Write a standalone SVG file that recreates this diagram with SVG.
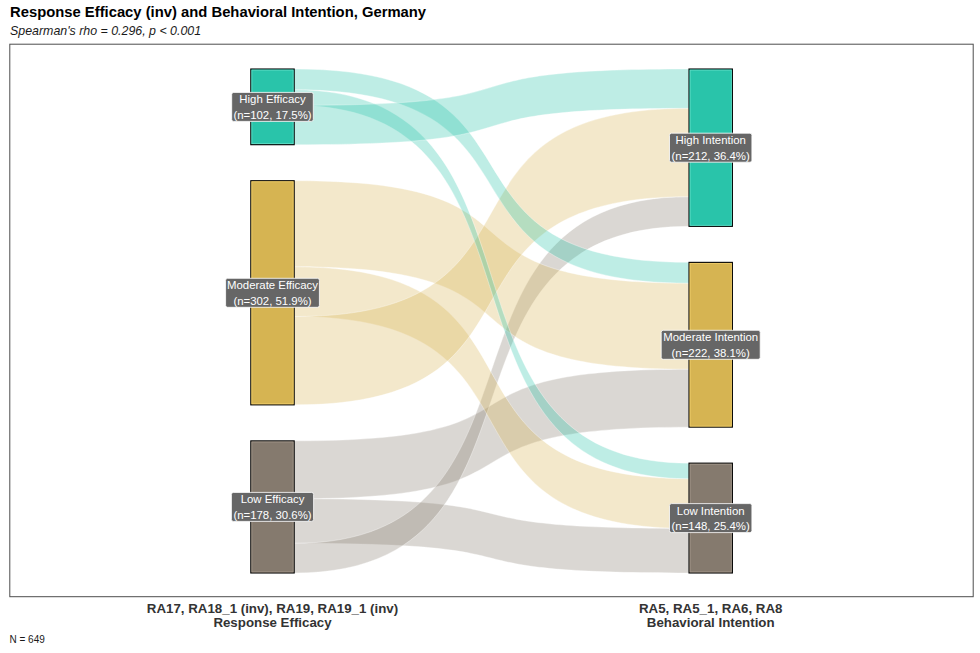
<svg xmlns="http://www.w3.org/2000/svg" width="980" height="653" viewBox="0 0 980 653">
<style>
text{font-family:"Liberation Sans",Arial,Helvetica,sans-serif}
.title{font-size:14.8px;font-weight:bold;fill:#000}
.sub{font-size:12.4px;font-style:italic;fill:#1a1a1a}
.ax{font-size:13.3px;font-weight:bold;fill:#333;text-anchor:middle}
.cap{font-size:10px;fill:#1a1a1a}
.flow{stroke:#fff;stroke-width:0.5;stroke-opacity:0.7}
.fh{fill:#29C4AA;fill-opacity:0.3}
.fm{fill:#D6B452;fill-opacity:0.3}
.fl{fill:#857A6E;fill-opacity:0.3}
.node{stroke:#000;stroke-width:1.1}
.inner{fill:none;stroke-width:0.8}
.lbox{fill:#666;stroke:#fff;stroke-width:0.8}
.ltxt{font-size:11.4px;fill:#fff;text-anchor:middle}
</style>
<rect x="0" y="0" width="980" height="653" fill="#fff"/>
<text class="title" x="10" y="17.4">Response Efficacy (inv) and Behavioral Intention, Germany</text>
<text class="sub" x="10" y="35">Spearman's rho = 0.296, p &lt; 0.001</text>
<rect x="9.8" y="44.2" width="963.4" height="552.5" fill="#fff" stroke="#4d4d4d" stroke-width="1"/>
<g id="connectors">
<path class="flow fl" d="M294.2,440.87 C570,440.87 413,369.24 689,369.24 L689,427.14 C413,427.14 570,498.77 294.2,498.77 Z"/>
<path class="flow fl" d="M294.2,498.77 C570,498.77 413,528.46 689,528.46 L689,573 C413,573 570,543.31 294.2,543.31 Z"/>
<path class="flow fl" d="M294.2,543.31 C570,543.31 413,196.67 689,196.67 L689,226.36 C413,226.36 570,573 294.2,573 Z"/>
<path class="flow fm" d="M294.2,180.71 C570,180.71 413,283.14 689,283.14 L689,369.24 C413,369.24 570,266.81 294.2,266.81 Z"/>
<path class="flow fm" d="M294.2,266.81 C570,266.81 413,478.73 689,478.73 L689,528.46 C413,528.46 570,316.54 294.2,316.54 Z"/>
<path class="flow fm" d="M294.2,316.54 C570,316.54 413,108.34 689,108.34 L689,196.67 C413,196.67 570,404.87 294.2,404.87 Z"/>
<path class="flow fh" d="M294.2,69 C570,69 413,262.36 689,262.36 L689,283.14 C413,283.14 570,89.78 294.2,89.78 Z"/>
<path class="flow fh" d="M294.2,89.78 C570,89.78 413,463.14 689,463.14 L689,478.73 C413,478.73 570,105.37 294.2,105.37 Z"/>
<path class="flow fh" d="M294.2,105.37 C570,105.37 413,69 689,69 L689,108.34 C413,108.34 570,144.71 294.2,144.71 Z"/>
</g>
<g id="high-efficacy">
<rect class="node" x="250.8" y="69" width="43.4" height="75.71" fill="#29C4AA"/>
<rect class="inner" x="251.9" y="70.1" width="41.2" height="73.5" stroke="#63DEC6"/>
<rect class="lbox" x="231.7" y="92.4" width="81.6" height="29" rx="2"/>
<text class="ltxt" x="272.5" y="103.3">High Efficacy</text>
<text class="ltxt" x="272.5" y="118.9">(n=102, 17.5%)</text>
</g>
<g id="moderate-efficacy">
<rect class="node" x="250.8" y="180.71" width="43.4" height="224.16" fill="#D6B452"/>
<rect class="inner" x="251.9" y="181.8" width="41.2" height="222" stroke="#F0CE6A"/>
<rect class="lbox" x="225.6" y="278.3" width="93.8" height="29" rx="2"/>
<text class="ltxt" x="272.5" y="289.2">Moderate Efficacy</text>
<text class="ltxt" x="272.5" y="304.8">(n=302, 51.9%)</text>
</g>
<g id="low-efficacy">
<rect class="node" x="250.8" y="440.87" width="43.4" height="132.13" fill="#857A6E"/>
<rect class="inner" x="251.9" y="442" width="41.2" height="129.9" stroke="#A2978A"/>
<rect class="lbox" x="231.4" y="492.4" width="82.2" height="29" rx="2"/>
<text class="ltxt" x="272.5" y="503.3">Low Efficacy</text>
<text class="ltxt" x="272.5" y="518.9">(n=178, 30.6%)</text>
</g>
<g id="high-intention">
<rect class="node" x="689" y="69" width="43.4" height="157.36" fill="#29C4AA"/>
<rect class="inner" x="690.1" y="70.1" width="41.2" height="155.2" stroke="#63DEC6"/>
<rect class="lbox" x="669.5" y="133.2" width="82.4" height="29" rx="2"/>
<text class="ltxt" x="710.7" y="144.1">High Intention</text>
<text class="ltxt" x="710.7" y="159.7">(n=212, 36.4%)</text>
</g>
<g id="moderate-intention">
<rect class="node" x="689" y="262.36" width="43.4" height="164.78" fill="#D6B452"/>
<rect class="inner" x="690.1" y="263.5" width="41.2" height="162.6" stroke="#F0CE6A"/>
<rect class="lbox" x="661.2" y="330.3" width="99" height="29" rx="2"/>
<text class="ltxt" x="710.7" y="341.2">Moderate Intention</text>
<text class="ltxt" x="710.7" y="356.8">(n=222, 38.1%)</text>
</g>
<g id="low-intention">
<rect class="node" x="689" y="463.14" width="43.4" height="109.86" fill="#857A6E"/>
<rect class="inner" x="690.1" y="464.2" width="41.2" height="107.7" stroke="#A2978A"/>
<rect class="lbox" x="669.5" y="503.6" width="82.4" height="29" rx="2"/>
<text class="ltxt" x="710.7" y="514.5">Low Intention</text>
<text class="ltxt" x="710.7" y="530.1">(n=148, 25.4%)</text>
</g>
<g id="axis-labels">
<text class="ax" x="272.5" y="613.4">RA17, RA18_1 (inv), RA19, RA19_1 (inv)</text>
<text class="ax" x="272.5" y="627.4">Response Efficacy</text>
<text class="ax" x="710.7" y="613.4">RA5, RA5_1, RA6, RA8</text>
<text class="ax" x="710.7" y="627.4">Behavioral Intention</text>
</g>
<text class="cap" x="9.5" y="642.7">N = 649</text>
</svg>
